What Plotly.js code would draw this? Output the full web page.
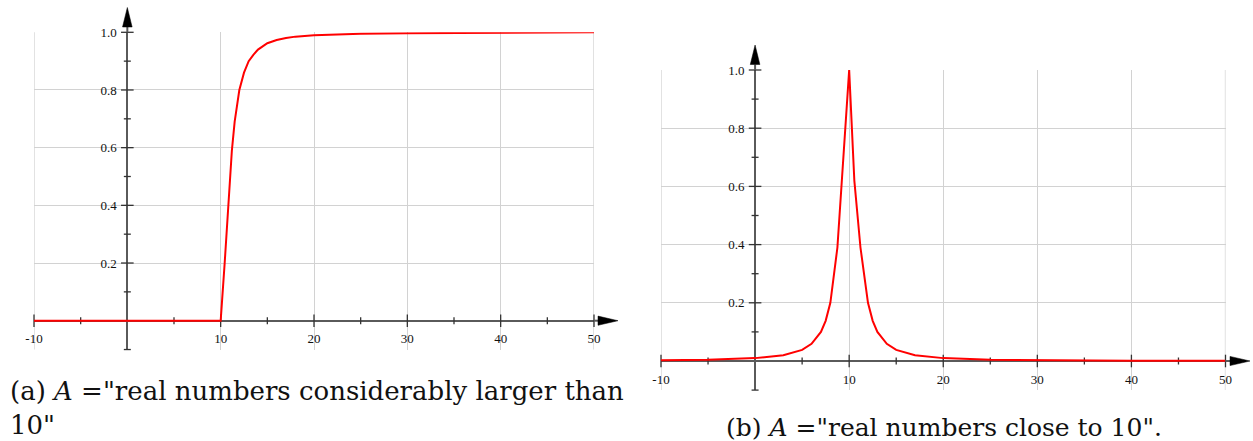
<!DOCTYPE html>
<html>
<head>
<meta charset="utf-8">
<script src="https://cdn.plot.ly/plotly-3.0.1.min.js"></script>
<style>html,body{margin:0;padding:0;background:#fff;}#chart{width:1253px;height:441px;}</style>
</head>
<body>
<div id="chart"></div>
<script>
// ---- data ----
const leftX = [-10, 10, 10.43, 10.79, 11.2, 11.5, 12, 12.5, 13, 13.5, 14, 15, 16, 17, 18, 20, 22, 25, 30, 35, 40, 45, 50];
const leftY = [0, 0, 0.2, 0.4, 0.59, 0.69, 0.8, 0.86, 0.9, 0.922, 0.94, 0.962, 0.973, 0.98, 0.985, 0.99, 0.992, 0.995, 0.997, 0.998, 0.999, 0.999, 1.0];

const rightX = [-10, -5, 0, 3, 5, 6, 7, 7.5, 8, 8.75, 10, 10.55, 11.2, 12, 12.5, 13, 14, 15, 17, 20, 25, 30, 40, 50];
const rightY = [0.0025, 0.0044, 0.0099, 0.02, 0.038, 0.059, 0.1, 0.138, 0.2, 0.39, 1.0, 0.62, 0.39, 0.2, 0.138, 0.1, 0.059, 0.038, 0.02, 0.0099, 0.0044, 0.0025, 0.0011, 0.0006];

const xTickVals = [-10, 10, 20, 30, 40, 50];
const xTickText = ['-10', '10', '20', '30', '40', '50'];
const xMinorVals = [-5, 5, 15, 25, 35, 45];
const xEdgeVals = [-10, 50];
const yTickVals = [0.2, 0.4, 0.6, 0.8, 1.0];
const yTickText = ['0.2', '0.4', '0.6', '0.8', '1.0'];
const yMinorVals = [-0.1, 0.1, 0.3, 0.5, 0.7, 0.9];

const captionA1 = '(a) <i>A</i> ="real numbers considerably larger than';
const captionA2 = '10"';
const captionB = '(b) <i>A</i> ="real numbers close to 10".';

// ---- layout geometry (pixels) ----
const W = 1253, H = 441;
const px = v => v / W;
const py = v => 1 - v / H;
const L = {x0: 34, x1: 594, yTop: 32.3, yZero: 320.7};
const R = {x0: 661, x1: 1225.5, yTop: 70, yZero: 361};
const yBot = g => g.yZero + (g.yZero - g.yTop) * 0.1;
const xZeroPx = g => g.x0 + (g.x1 - g.x0) / 6;

const gridColor = '#d2d2d2';
const axisColor = '#5a5a5a';
const tickColor = '#333';
const tickFont = {family: 'Liberation Serif', size: 13, color: '#111'};

function xAxis(g) {
  return {
    domain: [px(g.x0), px(g.x1)], range: [-10, 50], anchor: 'free', position: py(g.yZero),
    tickmode: 'array', tickvals: xTickVals, ticktext: xTickText,
    showgrid: true, gridcolor: gridColor, gridwidth: 1,
    zeroline: true, zerolinecolor: axisColor, zerolinewidth: 2,
    showline: false, ticks: 'outside', ticklen: 6, tickcolor: 'rgba(0,0,0,0)',
    tickfont: tickFont, fixedrange: true
  };
}
function yAxis(g) {
  return {
    domain: [py(yBot(g)), py(g.yTop)], range: [-0.1, 1.0], anchor: 'free', position: px(xZeroPx(g)),
    tickmode: 'array', tickvals: yTickVals, ticktext: yTickText,
    showgrid: true, gridcolor: gridColor, gridwidth: 1,
    zeroline: true, zerolinecolor: axisColor, zerolinewidth: 2,
    showline: false, ticks: 'outside', ticklen: 8, tickcolor: 'rgba(0,0,0,0)',
    tickfont: tickFont, fixedrange: true
  };
}

function tickTraces(xa, ya) {
  const zx = xMinorVals.map(() => 0), zX = xTickVals.map(() => 0);
  const zy = yMinorVals.map(() => 0), zY = yTickVals.map(() => 0);
  const mk = (sym, size) => ({symbol: sym, size: size, color: tickColor, line: {color: tickColor, width: 1.3}});
  return [
    {x: xTickVals, y: zX, xaxis: xa, yaxis: ya, mode: 'markers', marker: mk('line-ns-open', 9), hoverinfo: 'skip', showlegend: false, cliponaxis: false},
    {x: xMinorVals, y: zx, xaxis: xa, yaxis: ya, mode: 'markers', marker: mk('line-ns-open', 5), hoverinfo: 'skip', showlegend: false, cliponaxis: false},
    {x: zY, y: yTickVals, xaxis: xa, yaxis: ya, mode: 'markers', marker: mk('line-ew-open', 9), hoverinfo: 'skip', showlegend: false, cliponaxis: false},
    {x: zy, y: yMinorVals, xaxis: xa, yaxis: ya, mode: 'markers', marker: mk('line-ew-open', 5), hoverinfo: 'skip', showlegend: false, cliponaxis: false}
  ];
}

const traces = [
  ...tickTraces('x', 'y'),
  ...tickTraces('x2', 'y2'),
  {x: leftX, y: leftY, xaxis: 'x', yaxis: 'y', mode: 'lines', line: {color: '#ff0000', width: 2}, hoverinfo: 'skip', showlegend: false},
  {x: rightX, y: rightY, xaxis: 'x2', yaxis: 'y2', mode: 'lines', line: {color: '#ff0000', width: 2}, hoverinfo: 'skip', showlegend: false}
];

function edgeGrid(g, xref) {
  return xEdgeVals.map(v => ({type: 'line', xref: xref, yref: 'paper', x0: v, x1: v, y0: py(yBot(g)), y1: py(g.yTop), layer: 'below', line: {color: gridColor, width: 1.3}}));
}

function arrowShapes(g, yTip, xTip) {
  const ax = xZeroPx(g);
  const yHeadBase = yTip + 19.5;
  const xHeadBase = xTip - 20;
  const p = (x, y) => px(x) + ',' + py(y);
  return [
    {type: 'line', xref: 'paper', yref: 'paper', x0: px(ax), x1: px(ax), y0: py(g.yTop), y1: py(yHeadBase), line: {color: axisColor, width: 2}},
    {type: 'path', xref: 'paper', yref: 'paper', path: 'M' + p(ax, yTip) + ' L' + p(ax - 4.8, yHeadBase) + ' L' + p(ax + 4.8, yHeadBase) + ' Z', fillcolor: '#000', line: {color: '#000', width: 0.5}},
    {type: 'line', xref: 'paper', yref: 'paper', x0: px(g.x1), x1: px(xHeadBase), y0: py(g.yZero), y1: py(g.yZero), line: {color: axisColor, width: 2}},
    {type: 'path', xref: 'paper', yref: 'paper', path: 'M' + p(xTip, g.yZero) + ' L' + p(xHeadBase, g.yZero - 4.6) + ' L' + p(xHeadBase, g.yZero + 4.6) + ' Z', fillcolor: '#000', line: {color: '#000', width: 0.5}}
  ];
}

const capFontA = {family: 'DejaVu Serif', size: 26, color: '#111'};
const capFontB = {family: 'DejaVu Serif', size: 25, color: '#111'};

const layout = {
  width: W, height: H,
  margin: {l: 0, r: 0, t: 0, b: 0},
  paper_bgcolor: '#fff', plot_bgcolor: '#fff',
  showlegend: false,
  xaxis: xAxis(L), yaxis: yAxis(L),
  xaxis2: xAxis(R), yaxis2: yAxis(R),
  shapes: [...edgeGrid(L, 'x'), ...edgeGrid(R, 'x2'), ...arrowShapes(L, 7.5, 618), ...arrowShapes(R, 45, 1250)],
  annotations: [
    {xref: 'paper', yref: 'paper', x: px(8), y: py(391), xanchor: 'left', yanchor: 'middle', text: captionA1, showarrow: false, font: capFontA},
    {xref: 'paper', yref: 'paper', x: px(8), y: py(425), xanchor: 'left', yanchor: 'middle', text: captionA2, showarrow: false, font: capFontA},
    {xref: 'paper', yref: 'paper', x: px(944), y: py(427), xanchor: 'center', yanchor: 'middle', text: captionB, showarrow: false, font: capFontB}
  ]
};

Plotly.newPlot('chart', traces, layout, {staticPlot: true, displayModeBar: false});
</script>
</body>
</html>
